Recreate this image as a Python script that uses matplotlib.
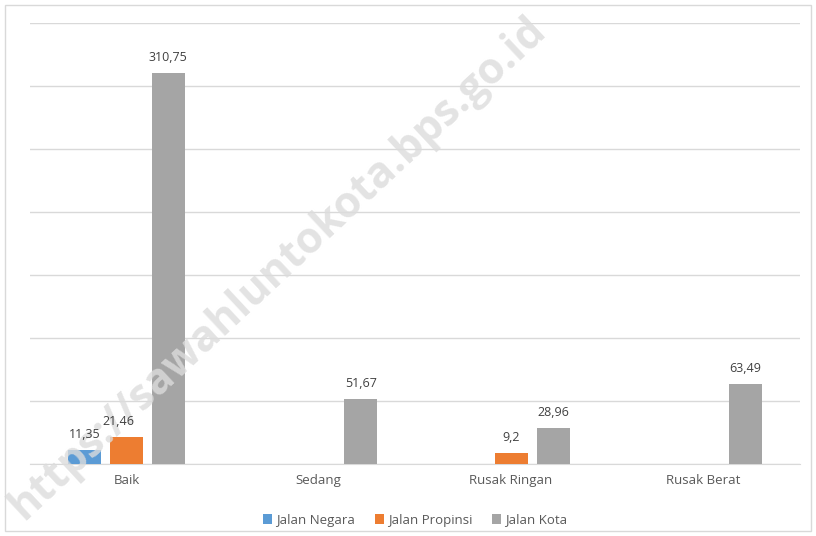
import matplotlib.pyplot as plt
import numpy as np
from matplotlib.patches import Rectangle

categories = ['Baik', 'Sedang', 'Rusak Ringan', 'Rusak Berat']
series = ['Jalan Negara', 'Jalan Propinsi', 'Jalan Kota']
negara = [11.35, None, None, None]
propinsi = [21.46, None, 9.2, None]
kota = [310.75, 51.67, 28.96, 63.49]
labels = [['11,35', '', '', ''], ['21,46', '', '9,2', ''], ['310,75', '51,67', '28,96', '63,49']]
colors = ['#5B9BD5', '#ED7D31', '#A5A5A5']

plt.rcParams['font.family'] = ['Open Sans', 'DejaVu Sans']
fig = plt.figure(figsize=(8.16, 5.36), dpi=100)
ax = fig.add_axes([0.037, 0.134, 0.943, 0.823])

x = np.arange(len(categories))
w = 0.172
step = 0.218
for i, vals in enumerate([negara, propinsi, kota]):
    pos = x + (i - 1) * step
    h = [v if v is not None else 0 for v in vals]
    bars = ax.bar(pos, h, width=w, color=colors[i], label=series[i], zorder=3)
    for b, v, t in zip(bars, vals, labels[i]):
        if v is None:
            continue
        dx = -0.04 if t == '21,46' else 0
        ax.text(b.get_x() + b.get_width() / 2 + dx, v + 7, t, ha='center', va='bottom',
                fontsize=9, color='#404040', zorder=12)

ax.set_xlim(-0.5, 3.5)
ax.set_ylim(0, 350)
ax.set_yticks(np.arange(0, 351, 50))
ax.yaxis.grid(True, color='#d9d9d9', linewidth=1, zorder=0)
ax.tick_params(left=False, labelleft=False, bottom=False)
ax.set_xticks(x)
ax.set_xticklabels(categories, fontsize=9.5, color='#595959')
for s in ['top', 'right', 'left']:
    ax.spines[s].set_visible(False)
ax.spines['bottom'].set_color('#d9d9d9')

ax.legend(loc='upper center', bbox_to_anchor=(0.5, -0.085), ncol=3, frameon=False,
          fontsize=9.5, labelcolor='#595959', handlelength=0.7, handleheight=0.7,
          handletextpad=0.3, columnspacing=1.5)

fig.patches.append(Rectangle((0.006, 0.01), 0.988, 0.98, transform=fig.transFigure,
                             fill=False, edgecolor='#d9d9d9', linewidth=1))

# watermark: above bars, below value labels
ax.text(0.34, 0.50, 'https://sawahluntokota.bps.go.id', transform=fig.transFigure,
        rotation=43, fontsize=31, fontweight='bold', color='#dcdcdc', alpha=0.8,
        ha='center', va='center', zorder=8, clip_on=False)

fig.savefig('out.png')
